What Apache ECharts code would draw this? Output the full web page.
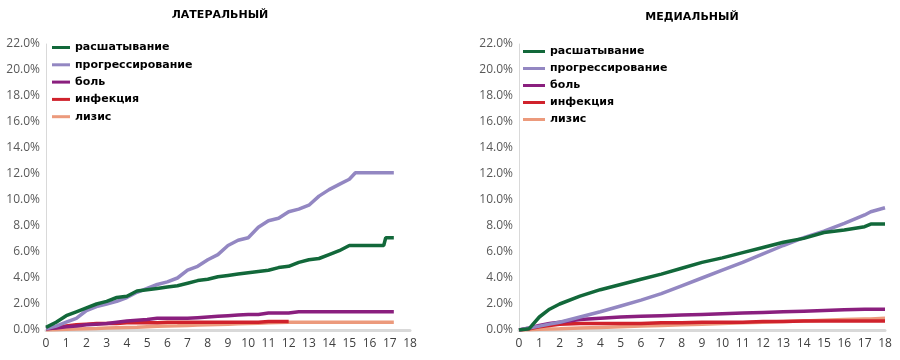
<!DOCTYPE html>
<html>
<head>
<meta charset="utf-8">
<script src="https://cdnjs.cloudflare.com/ajax/libs/echarts/6.0.0/echarts.min.js"></script>
<style>
  html, body { margin: 0; padding: 0; background: #fff; }
  #chart { width: 900px; height: 360px; }
</style>
</head>
<body>
<div id="chart"></div>
<script>
// названия серий
var seriesNames = ['расшатывание', 'прогрессирование', 'боль', 'инфекция', 'лизис'];
var colors = ['#12683a', '#9387c2', '#8a1f7e', '#d0222c', '#ec9a7c'];

// латеральный (годы, %)
var latX = [0, 0.5, 1, 1.5, 2, 2.5, 3, 3.5, 4, 4.5, 5, 5.5, 6, 6.5, 7, 7.5, 8, 8.5, 9, 9.5,
            10, 10.5, 11, 11.5, 12, 12.5, 13, 13.5, 14, 14.5, 15, 15.3, 16, 16.7, 16.8, 17.2];
var latLoosening = [0.2, 0.6, 1.1, 1.4, 1.7, 2.0, 2.2, 2.5, 2.6, 3.0, 3.1, 3.2, 3.3, 3.4, 3.6, 3.8, 3.9, 4.1, 4.2, 4.3,
                    4.4, 4.5, 4.6, 4.8, 4.9, 5.2, 5.4, 5.5, 5.8, 6.1, 6.5, 6.5, 6.5, 6.5, 7.1, 7.1];
var latProgression = [0.1, 0.3, 0.6, 0.9, 1.5, 1.8, 2.0, 2.2, 2.5, 2.9, 3.2, 3.5, 3.7, 4.0, 4.6, 4.9, 5.4, 5.8, 6.5, 6.9,
                      7.1, 7.9, 8.4, 8.6, 9.1, 9.3, 9.6, 10.3, 10.8, 11.2, 11.6, 12.1, 12.1, 12.1, 12.1, 12.1];
var latPain = [0.1, 0.15, 0.25, 0.3, 0.4, 0.45, 0.5, 0.6, 0.7, 0.75, 0.8, 0.9, 0.9, 0.9, 0.9, 0.95, 1.0, 1.05, 1.1, 1.15,
               1.2, 1.2, 1.3, 1.3, 1.3, 1.4, 1.4, 1.4, 1.4, 1.4, 1.4, 1.4, 1.4, 1.4, 1.4, 1.4];
var latInfection = [0.1, 0.2, 0.3, 0.4, 0.45, 0.5, 0.5, 0.5, 0.55, 0.55, 0.55, 0.55, 0.6, 0.6, 0.6, 0.6, 0.6, 0.6, 0.6, 0.6,
                    0.6, 0.6, 0.65, 0.65, 0.65, null, null, null, null, null, null, null, null, null, null, null];
var latLysis = [0, 0.02, 0.05, 0.08, 0.1, 0.12, 0.15, 0.18, 0.2, 0.22, 0.25, 0.28, 0.3, 0.32, 0.35, 0.38, 0.4, 0.42, 0.45, 0.48,
                0.5, 0.52, 0.55, 0.58, 0.6, 0.6, 0.6, 0.6, 0.6, 0.6, 0.6, 0.6, 0.6, 0.6, 0.6, 0.6];

// медиальный (годы, %)
var medX = [0, 0.5, 1, 1.5, 2, 3, 4, 5, 6, 7, 8, 9, 10, 11, 12, 13, 14, 15, 16, 17, 17.3, 18];
var medLoosening = [0, 0.1, 1.0, 1.6, 2.0, 2.6, 3.1, 3.5, 3.9, 4.3, 4.75, 5.2, 5.55, 5.95, 6.35, 6.75, 7.05, 7.5, 7.7, 7.95, 8.15, 8.15];
var medProgression = [0, 0.15, 0.3, 0.45, 0.6, 1.0, 1.4, 1.85, 2.3, 2.8, 3.4, 4.0, 4.6, 5.2, 5.85, 6.5, 7.1, 7.6, 8.2, 8.85, 9.1, 9.4];
var medPain = [0, 0.15, 0.35, 0.5, 0.6, 0.8, 0.9, 1.0, 1.05, 1.1, 1.15, 1.2, 1.25, 1.3, 1.35, 1.4, 1.45, 1.5, 1.55, 1.6, 1.6, 1.6];
var medInfection = [0, 0.1, 0.25, 0.35, 0.45, 0.5, 0.5, 0.5, 0.5, 0.55, 0.55, 0.6, 0.6, 0.6, 0.65, 0.65, 0.7, 0.7, 0.7, 0.7, 0.7, 0.7];
var medLysis = [0, 0.02, 0.05, 0.08, 0.1, 0.15, 0.2, 0.25, 0.3, 0.35, 0.4, 0.45, 0.5, 0.55, 0.6, 0.65, 0.7, 0.75, 0.8, 0.85, 0.85, 0.9];

var yTicksMax = 22, yTicksStep = 2;
var xMax = 18;

function pairs(xs, ys) {
  return xs.map(function (x, i) { return ys[i] == null ? null : [x, ys[i]]; })
           .filter(function (p) { return p !== null; });
}

var latData = [latLoosening, latProgression, latPain, latInfection, latLysis];
var medData = [medLoosening, medProgression, medPain, medInfection, medLysis];
var zOrder = [5, 4, 3, 2, 1];

var series = [];
seriesNames.forEach(function (name, i) {
  series.push({
    name: name, type: 'line', xAxisIndex: 0, yAxisIndex: 0,
    showSymbol: false, z: zOrder[i],
    lineStyle: { width: 3.5, color: colors[i] }, itemStyle: { color: colors[i] },
    data: pairs(latX, latData[i])
  });
});
seriesNames.forEach(function (name, i) {
  series.push({
    name: name, type: 'line', xAxisIndex: 1, yAxisIndex: 1,
    showSymbol: false, z: zOrder[i],
    lineStyle: { width: 3.5, color: colors[i] }, itemStyle: { color: colors[i] },
    data: pairs(medX, medData[i])
  });
});

function xAxis(gridIndex) {
  return {
    type: 'value', gridIndex: gridIndex, min: 0, max: xMax, interval: 1,
    axisLine: { lineStyle: { color: '#d9d9d9', width: 3 } },
    axisTick: { show: false },
    splitLine: { show: false },
    axisLabel: { color: '#404040', fontSize: 12, margin: 8, fontFamily: 'Open Sans' }
  };
}
function yAxis(gridIndex) {
  return {
    type: 'value', gridIndex: gridIndex, min: 0, max: yTicksMax, interval: yTicksStep,
    axisLine: { show: true, lineStyle: { color: '#d9d9d9', width: 1 } },
    axisTick: { show: false },
    splitLine: { show: false },
    axisLabel: {
      color: '#595959', fontSize: 12, margin: 6, fontFamily: 'Open Sans',
      formatter: function (v) { return v.toFixed(1) + '%'; }
    }
  };
}

var legendText = { color: '#000', fontSize: 11, fontWeight: 'bold', fontFamily: 'DejaVu Sans' };

var chart = echarts.init(document.getElementById('chart'));
chart.setOption({
  animation: false,
  backgroundColor: '#fff',
  title: [
    { text: 'ЛАТЕРАЛЬНЫЙ', left: 215, top: 5, textAlign: 'center',
      textStyle: { fontSize: 11, fontWeight: 'bold', color: '#000', fontFamily: 'DejaVu Sans' } },
    { text: 'МЕДИАЛЬНЫЙ', left: 687, top: 7, textAlign: 'center',
      textStyle: { fontSize: 11, fontWeight: 'bold', color: '#000', fontFamily: 'DejaVu Sans' } }
  ],
  legend: [
    { orient: 'vertical', left: 52, top: 42, itemWidth: 18, itemHeight: 3, itemGap: 6.3, icon: 'rect',
      data: seriesNames, textStyle: legendText, padding: 0,
      selectedMode: false },
    { orient: 'vertical', left: 523, top: 46, itemWidth: 22, itemHeight: 3, itemGap: 6, icon: 'rect',
      data: seriesNames, textStyle: legendText, padding: 0,
      selectedMode: false }
  ],
  grid: [
    { left: 46, right: 490, top: 44, bottom: 30 },
    { left: 519, right: 15, top: 44, bottom: 30 }
  ],
  xAxis: [xAxis(0), xAxis(1)],
  yAxis: [yAxis(0), yAxis(1)],
  series: series
});
</script>
</body>
</html>
